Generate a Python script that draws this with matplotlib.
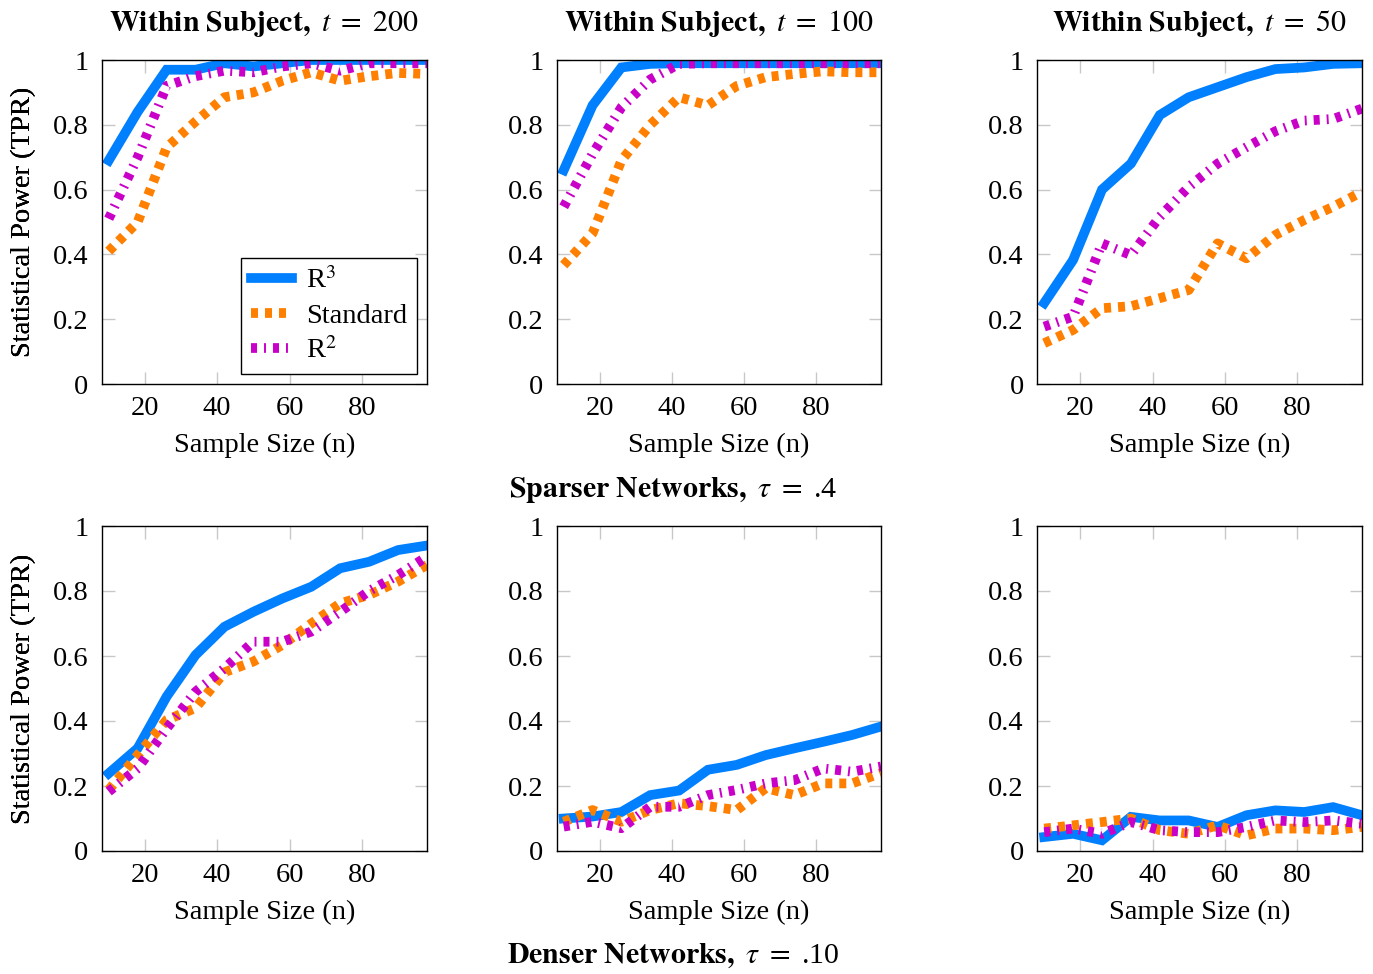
import matplotlib
matplotlib.use("Agg")
import matplotlib.pyplot as plt

plt.rcParams['font.family'] = ['Liberation Serif', 'DejaVu Serif']
plt.rcParams['mathtext.fontset'] = 'stix'
plt.rcParams['font.size'] = 20.5

sample_sizes = [10, 18, 26, 34, 42, 50, 58, 66, 74, 82, 90, 98]

# Top row: Sparser networks (tau = .4)
t200_r3 = [0.69, 0.84, 0.97, 0.97, 0.99, 0.98, 0.99, 1.0, 1.0, 1.0, 1.0, 1.0]
t200_std = [0.41, 0.50, 0.73, 0.81, 0.885, 0.90, 0.936, 0.962, 0.936, 0.95, 0.96, 0.957]
t200_r2 = [0.51, 0.70, 0.92, 0.95, 0.967, 0.962, 0.98, 0.99, 0.967, 0.99, 0.99, 0.99]

t100_r3 = [0.66, 0.86, 0.977, 0.988, 0.99, 0.99, 0.99, 0.99, 0.99, 0.99, 0.99, 0.99]
t100_std = [0.367, 0.465, 0.69, 0.80, 0.885, 0.86, 0.92, 0.947, 0.957, 0.965, 0.962, 0.962]
t100_r2 = [0.547, 0.71, 0.854, 0.94, 0.988, 0.99, 0.99, 0.99, 0.99, 0.99, 0.99, 0.99]

t50_r3 = [0.25, 0.383, 0.60, 0.68, 0.83, 0.885, 0.916, 0.947, 0.972, 0.977, 0.988, 0.99]
t50_std = [0.126, 0.167, 0.234, 0.24, 0.265, 0.29, 0.434, 0.388, 0.46, 0.506, 0.547, 0.593]
t50_r2 = [0.177, 0.208, 0.434, 0.398, 0.516, 0.608, 0.68, 0.731, 0.78, 0.813, 0.818, 0.85]

# Bottom row: Denser networks (tau = .10)
d200_r3 = [0.239, 0.316, 0.475, 0.603, 0.69, 0.736, 0.777, 0.813, 0.87, 0.89, 0.926, 0.94]
d200_std = [0.188, 0.295, 0.403, 0.44, 0.55, 0.583, 0.634, 0.70, 0.762, 0.788, 0.829, 0.88]
d200_r2 = [0.183, 0.254, 0.377, 0.49, 0.562, 0.644, 0.644, 0.675, 0.736, 0.80, 0.849, 0.906]

d100_r3 = [0.10, 0.106, 0.12, 0.172, 0.186, 0.25, 0.265, 0.295, 0.316, 0.336, 0.357, 0.383]
d100_std = [0.09, 0.126, 0.09, 0.126, 0.147, 0.138, 0.126, 0.193, 0.172, 0.208, 0.208, 0.24]
d100_r2 = [0.075, 0.09, 0.07, 0.136, 0.136, 0.172, 0.188, 0.208, 0.218, 0.254, 0.244, 0.26]

d50_r3 = [0.043, 0.053, 0.033, 0.105, 0.094, 0.094, 0.074, 0.11, 0.125, 0.12, 0.135, 0.11]
d50_std = [0.069, 0.079, 0.089, 0.10, 0.064, 0.053, 0.079, 0.048, 0.069, 0.069, 0.064, 0.074]
d50_r2 = [0.058, 0.069, 0.053, 0.089, 0.064, 0.058, 0.058, 0.074, 0.094, 0.089, 0.094, 0.084]

series_labels = [r"R$^3$", "Standard", r"R$^2$"]
titles = [r"$\mathbf{Within\ Subject,}\ t\ =\ 200$",
          r"$\mathbf{Within\ Subject,}\ t\ =\ 100$",
          r"$\mathbf{Within\ Subject,}\ t\ =\ 50$"]
row_labels = [r"$\mathbf{Sparser\ Networks,}\ \tau\ =\ $.4",
              r"$\mathbf{Denser\ Networks,}\ \tau\ =\ $.10"]
xlabel = "Sample Size (n)"
ylabel = "Statistical Power (TPR)"
yticks = [0, 0.2, 0.4, 0.6, 0.8, 1.0]
ytick_labels = ["0", "0.2", "0.4", "0.6", "0.8", "1"]
xticks = [20, 40, 60, 80]

panels = [
    [(t200_r3, t200_std, t200_r2), (t100_r3, t100_std, t100_r2), (t50_r3, t50_std, t50_r2)],
    [(d200_r3, d200_std, d200_r2), (d100_r3, d100_std, d100_r2), (d50_r3, d50_std, d50_r2)],
]

colors = ['#0080ff', '#ff8000', '#c800c8']
lw = 7.0
styles = ['-', (0, (0.72, 0.72)), (0, (0.62, 0.72, 0.2, 0.72))]

W, H = 1373, 974
fig = plt.figure(figsize=(W / 100, H / 100), dpi=100)

col_px = [(101.5, 427), (556.5, 881), (1037, 1362)]
row_px = [(60, 384), (526, 851)]

for r in range(2):
    for c in range(3):
        x0, x1 = col_px[c]
        y0, y1 = row_px[r]
        ax = fig.add_axes([x0 / W, 1 - y1 / H, (x1 - x0) / W, (y1 - y0) / H])
        for k in range(3):
            ax.plot(sample_sizes, panels[r][c][k], color=colors[k], lw=lw,
                    linestyle=styles[k], label=series_labels[k],
                    solid_joinstyle='miter', dash_capstyle='butt')
        ax.set_xlim(8, 98)
        ax.set_ylim(0, 1)
        ax.set_xticks(xticks)
        ax.set_yticks(yticks)
        ax.set_yticklabels(ytick_labels)
        ax.tick_params(direction='in', length=9, width=1, color='#c8c8c8',
                       top=True, right=True, labelsize=20.5)
        ax.tick_params(axis='x', pad=8.5)
        ax.tick_params(axis='y', pad=9.5)
        for s in ax.spines.values():
            s.set_linewidth(1.0)
            s.set_color('black')
        ax.set_xlabel(xlabel, fontsize=20.5)
        ax.xaxis.set_label_coords(0.5, -49.0 / (y1 - y0))
        ax.set_ylabel(ylabel, fontsize=20.5)
        ax.yaxis.set_label_coords((36 - x0) / (x1 - x0), 0.5)
        if r == 0:
            ax.set_title(titles[c], fontsize=21.5, pad=21)
        if r == 0 and c == 0:
            leg = ax.legend(loc='lower right', bbox_to_anchor=(0.97, 0.03),
                            fontsize=20.5, frameon=True, fancybox=False,
                            edgecolor='black', framealpha=1, handlelength=1.45,
                            handletextpad=0.5, borderpad=0.35, labelspacing=0.3,
                            borderaxespad=0)
            leg.get_frame().set_linewidth(1.0)

fig.text(673 / W, 1 - 490 / H, row_labels[0], ha='center', va='center', fontsize=21.5)
fig.text(673 / W, 1 - 956 / H, row_labels[1], ha='center', va='center', fontsize=21.5)

fig.savefig("out.png", dpi=100)
